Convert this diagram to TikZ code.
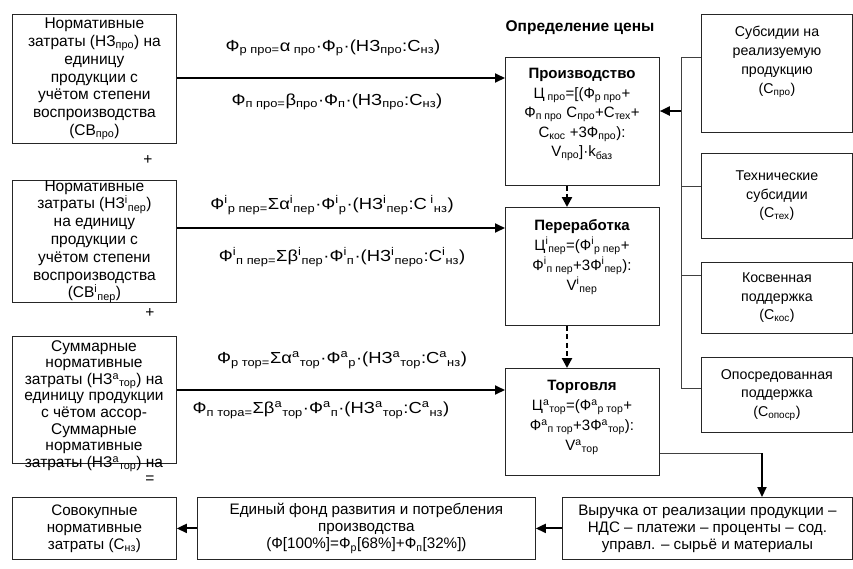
\documentclass[tikz,border=0pt]{standalone}
\usepackage{fontspec}
\usepackage{graphicx}
\setmainfont{Liberation Sans}
\usetikzlibrary{arrows.meta}
\newcommand\sbs[1]{\textsubscript{#1}}
\newcommand\sps[1]{\textsuperscript{#1}}
\newcommand\wide[1]{\scalebox{1.15}[1]{#1}}
\begin{document}
\begin{tikzpicture}[x=1pt,y=-1pt,
  box/.style={draw=black!85, line width=0.8pt, anchor=north west, inner sep=0pt, align=center,
              font=\fontsize{15.5}{17.8}\selectfont},
  txt/.style={align=center, inner sep=0pt, font=\fontsize{15.5}{17.8}\selectfont},
  fml/.style={inner sep=0pt, font=\fontsize{16}{18}\selectfont},
  bigarrow/.style={line width=1.9pt, -{Triangle[length=10pt,width=9pt]}},
  dasharrow/.style={line width=2.4pt, dash pattern=on 5pt off 3.5pt, -{Triangle[length=10pt,width=10pt]}},
  thinline/.style={line width=0.8pt, draw=black!75}]
\useasboundingbox (0,0) rectangle (853,568);
\fill[white] (0,0) rectangle (853,568);

% left column
\node[box, minimum width=164pt, minimum height=129pt] (b1) at (12,14)
  {Нормативные\\затраты (НЗ\sbs{про}) на\\единицу\\продукции с\\учётом степени\\воспроизводства\\(СВ\sbs{про})};
\node[txt] (plus1) at (148,160) {+};
\node[box, minimum width=164pt, minimum height=113pt] (b2) at (12,180)
  {Нормативные\\затраты (НЗ\sps{i}\sbs{пер})\\на единицу\\продукции с\\учётом степени\\воспроизводства\\(СВ\sps{i}\sbs{пер})};
\node[txt] (plus2) at (150,313) {+};
\node[box, minimum width=164pt, minimum height=127pt] (b3) at (12,336) {};
\node[txt, anchor=north, font=\fontsize{15.5}{16.6}\selectfont] (b3t) at (94,340)
  {Суммарные\\нормативные\\затраты (НЗ\sps{a}\sbs{тор}) на\\единицу продукции\\с чётом ассор-\\Суммарные\\нормативные\\затраты (НЗ\sps{a}\sbs{тор}) на};
\node[txt] (eq) at (150,480) {=};

% bottom row
\node[box, minimum width=164pt, minimum height=62pt, font=\fontsize{15.2}{17}\selectfont] (b4) at (12,497)
  {Совокупные\\нормативные\\затраты (С\sbs{нз})};
\node[box, minimum width=338pt, minimum height=62pt, font=\fontsize{15.2}{17}\selectfont] (fund) at (197,497)
  {Единый фонд развития и потребления\\производства\\(Ф[100\%]=Ф\sbs{р}[68\%]+Ф\sbs{п}[32\%])};
\node[box, minimum width=290pt, minimum height=62pt, font=\fontsize{15.2}{17}\selectfont] (rev) at (562,497)
  {Выручка от реализации продукции –\\НДС – платежи – проценты – сод.\\управл. – сырьё и материалы};

% centre column
\node[inner sep=0pt, font=\bfseries\fontsize{15.5}{18}\selectfont] (title) at (580,28) {Определение цены};
\node[box, minimum width=154pt, minimum height=128pt] (prod) at (505,57) {};
\node[txt, anchor=north, font=\fontsize{15}{19.5}\selectfont] (prodt) at (582,68)
  {{\bfseries\fontsize{15}{21}\selectfont Производство}\\
   Ц\sbs{ про}=[(Ф\sbs{р про}+\\
   Ф\sbs{п про} С\sbs{про}+С\sbs{тех}+\\
   С\sbs{кос} +3Ф\sbs{про}):\\
   V\sbs{про}]·k\sbs{баз}};
\node[box, minimum width=154pt, minimum height=118pt] (pere) at (505,207) {};
\node[txt, anchor=north, font=\fontsize{15}{20}\selectfont] (peret) at (582,219)
  {{\bfseries\fontsize{15}{19}\selectfont Переработка}\\
   Ц\sps{i}\sbs{пер}=(Ф\sps{i}\sbs{р пер}+\\
   Ф\sps{i}\sbs{п пер}+3Ф\sps{i}\sbs{пер}):\\
   V\sps{i}\sbs{пер}};
\node[box, minimum width=154pt, minimum height=107pt] (torg) at (505,368) {};
\node[txt, anchor=north, font=\fontsize{15}{20}\selectfont] (torgt) at (582,380)
  {{\bfseries\fontsize{15}{19}\selectfont Торговля}\\
   Ц\sps{a}\sbs{тор}=(Ф\sps{a}\sbs{р тор}+\\
   Ф\sps{a}\sbs{п тор}+3Ф\sps{a}\sbs{тор}):\\
   V\sps{a}\sbs{тор}};

% right column
\node[box, minimum width=151pt, minimum height=118pt] (s1) at (701,14) {};
\node[txt, anchor=north, font=\fontsize{14.2}{19}\selectfont] (s1t) at (777,26)
  {Субсидии на\\реализуемую\\продукцию\\(С\sbs{про})};
\node[box, minimum width=151pt, minimum height=85pt, font=\fontsize{14.2}{18.5}\selectfont] (s2) at (701,153)
  {Технические\\субсидии\\(С\sbs{тех})};
\node[box, minimum width=151pt, minimum height=71pt, font=\fontsize{14.2}{18.5}\selectfont] (s3) at (701,262)
  {Косвенная\\поддержка\\(С\sbs{кос})};
\node[box, minimum width=151pt, minimum height=75pt, font=\fontsize{14.2}{18.5}\selectfont] (s4) at (701,357)
  {Опосредованная\\поддержка\\(С\sbs{опоср})};

% formulas
\node[fml] (f1) at (333,48) {\wide{Ф\sbs{р про=}α\sbs{ про}·Ф\sbs{р}·(НЗ\sbs{про}:С\sbs{нз})}};
\node[fml] (f2) at (337,102) {\wide{Ф\sbs{п про=}β\sbs{про}·Ф\sbs{п}·(НЗ\sbs{про}:С\sbs{нз})}};
\node[fml] (f3) at (332,205) {\wide{Ф\sps{i}\sbs{р пер=}Σα\sps{i}\sbs{пер}·Ф\sps{i}\sbs{р}·(НЗ\sps{i}\sbs{пер}:С\sps{ i}\sbs{нз})}};
\node[fml] (f4) at (342,257) {\wide{Ф\sps{i}\sbs{п пер=}Σβ\sps{i}\sbs{пер}·Ф\sps{i}\sbs{п}·(НЗ\sps{i}\sbs{перо}:С\sps{i}\sbs{нз})}};
\node[fml] (f5) at (342,360) {\wide{Ф\sbs{р тор=}Σα\sps{a}\sbs{тор}·Ф\sps{a}\sbs{р}·(НЗ\sps{a}\sbs{тор}:С\sps{a}\sbs{нз})}};
\node[fml] (f6) at (321,410) {\wide{Ф\sbs{п тора=}Σβ\sps{a}\sbs{тор}·Ф\sps{a}\sbs{п}·(НЗ\sps{a}\sbs{тор}:С\sps{a}\sbs{нз})}};

% connectors left -> centre
\draw[bigarrow] (b1.east |- 0,78) -- (prod.west |- 0,78);
\draw[bigarrow] (b2.east |- 0,228) -- (pere.west |- 0,228);
\draw[bigarrow] (b3.east |- 0,390) -- (torg.west |- 0,390);

% dashed arrows
\draw[dasharrow] (prod.south -| 567,0) -- (pere.north -| 567,0);
\draw[dasharrow] (pere.south -| 567,0) -- (torg.north -| 567,0);

% right bus
\coordinate (v1) at (681,57);
\coordinate (v2) at (681,186);
\coordinate (v3) at (681,275);
\coordinate (v4) at (681,388);
\coordinate (vp) at (681,111);
\draw[thinline] (v1) -- (v4);
\draw[thinline] (v1) -- (v1 -| s1.west);
\draw[thinline] (v2) -- (v2 -| s2.west);
\draw[thinline] (v3) -- (v3 -| s3.west);
\draw[thinline] (v4) -- (v4 -| s4.west);
\draw[bigarrow] (vp) -- (vp -| prod.east);

% trade -> revenue -> fund -> total
\coordinate (tc) at (762,453);
\draw[thinline] (torg.east |- tc) -- (tc);
\draw[bigarrow] (tc) -- (tc |- rev.north);
\draw[bigarrow] (rev.west) -- (fund.east);
\draw[bigarrow] (fund.west) -- (b4.east);
\end{tikzpicture}
\end{document}
